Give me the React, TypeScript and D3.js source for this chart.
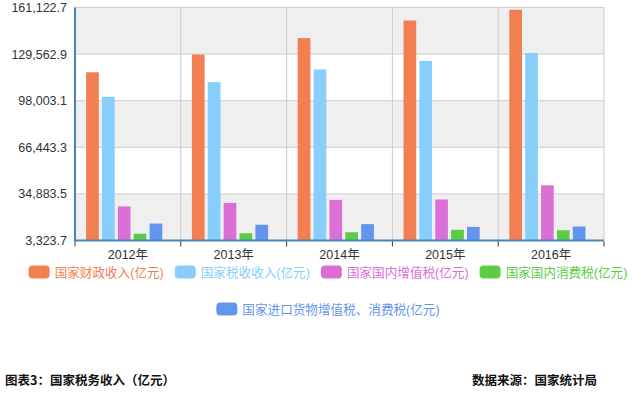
import { useEffect, useRef } from "react";
import * as d3 from "d3";

const years = ["2012年", "2013年", "2014年", "2015年", "2016年"];
const seriesNames = [
  "国家财政收入(亿元)",
  "国家税收收入(亿元)",
  "国家国内增值税(亿元)",
  "国家国内消费税(亿元)",
  "国家进口货物增值税、消费税(亿元)",
];
const fiscalRevenue = [117253.52, 129209.64, 140370.03, 152269.23, 159604.97];
const taxRevenue = [100614.28, 110530.7, 119175.31, 124922.2, 130360.73];
const domesticVat = [26415.51, 28810.13, 30855.36, 31109.47, 40712.08];
const domesticConsumption = [7875.58, 8231.32, 8907.12, 10542.16, 10217.23];
const importTax = [14802.16, 14004.56, 14425.3, 12533.35, 12784.59];
const yTicks = [3323.7, 34883.5, 66443.3, 98003.1, 129562.9, 161122.7];
const colors = ["#f27f52", "#87cefa", "#da70d6", "#5ccb46", "#6495ed"];

const allSeries = [fiscalRevenue, taxRevenue, domesticVat, domesticConsumption, importTax];

const width = 632;
const height = 394;
const margin = { top: 7.5, right: 28, bottom: 153.5, left: 75 };
const latin = "'Liberation Sans', Arial, 'Noto Sans CJK SC', sans-serif";

const App = () => {
  const svgRef = useRef<SVGSVGElement>(null);

  useEffect(() => {
    if (!svgRef.current) return;
    const svg = d3.select(svgRef.current);
    svg.selectAll("*").remove();

    const x0 = margin.left;
    const x1 = width - margin.right;
    const yTop = margin.top;
    const yBot = height - margin.bottom;

    const xScale = d3.scaleBand<string>().domain(years).range([x0, x1]);
    const inner = d3
      .scaleBand<number>()
      .domain(d3.range(seriesNames.length))
      .range([xScale.bandwidth() * 0.09, xScale.bandwidth() * 0.84])
      .paddingInner(0.2)
      .paddingOuter(0.1);
    const yScale = d3
      .scaleLinear()
      .domain([yTicks[0], yTicks[yTicks.length - 1]])
      .range([yBot, yTop]);

    // alternating split areas
    for (let i = 0; i < yTicks.length - 1; i++) {
      svg
        .append("rect")
        .attr("x", x0)
        .attr("y", yScale(yTicks[i + 1]))
        .attr("width", x1 - x0)
        .attr("height", yScale(yTicks[i]) - yScale(yTicks[i + 1]))
        .attr("fill", i % 2 === 0 ? "#efefef" : "#ffffff");
    }

    // grid lines
    svg
      .selectAll("line.hgrid")
      .data(yTicks)
      .enter()
      .append("line")
      .attr("x1", x0)
      .attr("x2", x1)
      .attr("y1", (d) => yScale(d))
      .attr("y2", (d) => yScale(d))
      .attr("stroke", "#cccccc");
    const bounds = years.map((y) => xScale(y) as number).concat([x1]);
    svg
      .selectAll("line.vgrid")
      .data(bounds.slice(1))
      .enter()
      .append("line")
      .attr("x1", (d) => d)
      .attr("x2", (d) => d)
      .attr("y1", yTop)
      .attr("y2", yBot)
      .attr("stroke", "#cccccc");

    // bars
    allSeries.forEach((values, si) => {
      svg
        .append("g")
        .selectAll("rect")
        .data(values)
        .enter()
        .append("rect")
        .attr("x", (_, i) => (xScale(years[i]) as number) + (inner(si) as number))
        .attr("y", (d) => yScale(d))
        .attr("width", inner.bandwidth())
        .attr("height", (d) => yBot - yScale(d))
        .attr("fill", colors[si]);
    });

    // axes
    svg
      .append("line")
      .attr("x1", x0)
      .attr("x2", x0)
      .attr("y1", yTop)
      .attr("y2", yBot + 1)
      .attr("stroke", "#4488bb")
      .attr("stroke-width", 2);
    svg
      .append("line")
      .attr("x1", x0)
      .attr("x2", x1)
      .attr("y1", yBot)
      .attr("y2", yBot)
      .attr("stroke", "#4488bb")
      .attr("stroke-width", 2);
    svg
      .selectAll("line.tick")
      .data(bounds)
      .enter()
      .append("line")
      .attr("x1", (d) => d)
      .attr("x2", (d) => d)
      .attr("y1", yBot + 1)
      .attr("y2", yBot + 6)
      .attr("stroke", "#333333");

    svg
      .selectAll("text.ylab")
      .data(yTicks)
      .enter()
      .append("text")
      .attr("x", x0 - 8)
      .attr("y", (d) => yScale(d))
      .attr("dy", "0.36em")
      .attr("text-anchor", "end")
      .attr("font-family", latin)
      .attr("font-size", 12.5)
      .attr("fill", "#333333")
      .text((d) => d3.format(",.1f")(d));

    svg
      .selectAll("text.xlab")
      .data(years)
      .enter()
      .append("text")
      .attr("x", (d) => (xScale(d) as number) + xScale.bandwidth() / 2)
      .attr("y", yBot + 18)
      .attr("text-anchor", "middle")
      .attr("font-family", latin)
      .attr("font-size", 12.5)
      .attr("fill", "#333333")
      .text((d) => d);

    // legend, two centered rows
    const rows = [[0, 1, 2, 3], [4]];
    const rowY = [272, 309];
    const cx = 328;
    rows.forEach((row, ri) => {
      const g = svg.append("g");
      let cursor = 0;
      row.forEach((si) => {
        const item = g.append("g").attr("transform", `translate(${cursor},0)`);
        item
          .append("rect")
          .attr("x", 0)
          .attr("y", rowY[ri] - 6.5)
          .attr("width", 21)
          .attr("height", 13)
          .attr("rx", 4)
          .attr("fill", colors[si]);
        const t = item
          .append("text")
          .attr("x", 26)
          .attr("y", rowY[ri])
          .attr("dy", "0.36em")
          .attr("font-family", latin)
          .attr("font-size", 12.6)
          .attr("fill", colors[si])
          .text(seriesNames[si]);
        const w = (t.node() as SVGTextElement).getComputedTextLength();
        cursor += 26 + w + 11;
      });
      const total = cursor - 11;
      g.attr("transform", `translate(${cx - total / 2},0)`);
    });

    // footer
    svg
      .append("text")
      .attr("x", 5)
      .attr("y", 385)
      .attr("font-family", "'Noto Sans CJK SC', sans-serif")
      .attr("font-weight", "bold")
      .attr("font-size", 12.5)
      .attr("fill", "#111111")
      .text("图表3：国家税务收入（亿元）");
    svg
      .append("text")
      .attr("x", 597)
      .attr("y", 385)
      .attr("text-anchor", "end")
      .attr("font-family", "'Noto Sans CJK SC', sans-serif")
      .attr("font-weight", "bold")
      .attr("font-size", 12.5)
      .attr("fill", "#111111")
      .text("数据来源：国家统计局");
  }, []);

  return (
    <div style={{ position: "absolute", left: 0, top: 0, background: "#ffffff" }}>
      <svg ref={svgRef} width={width} height={height}></svg>
    </div>
  );
};

export default App;
